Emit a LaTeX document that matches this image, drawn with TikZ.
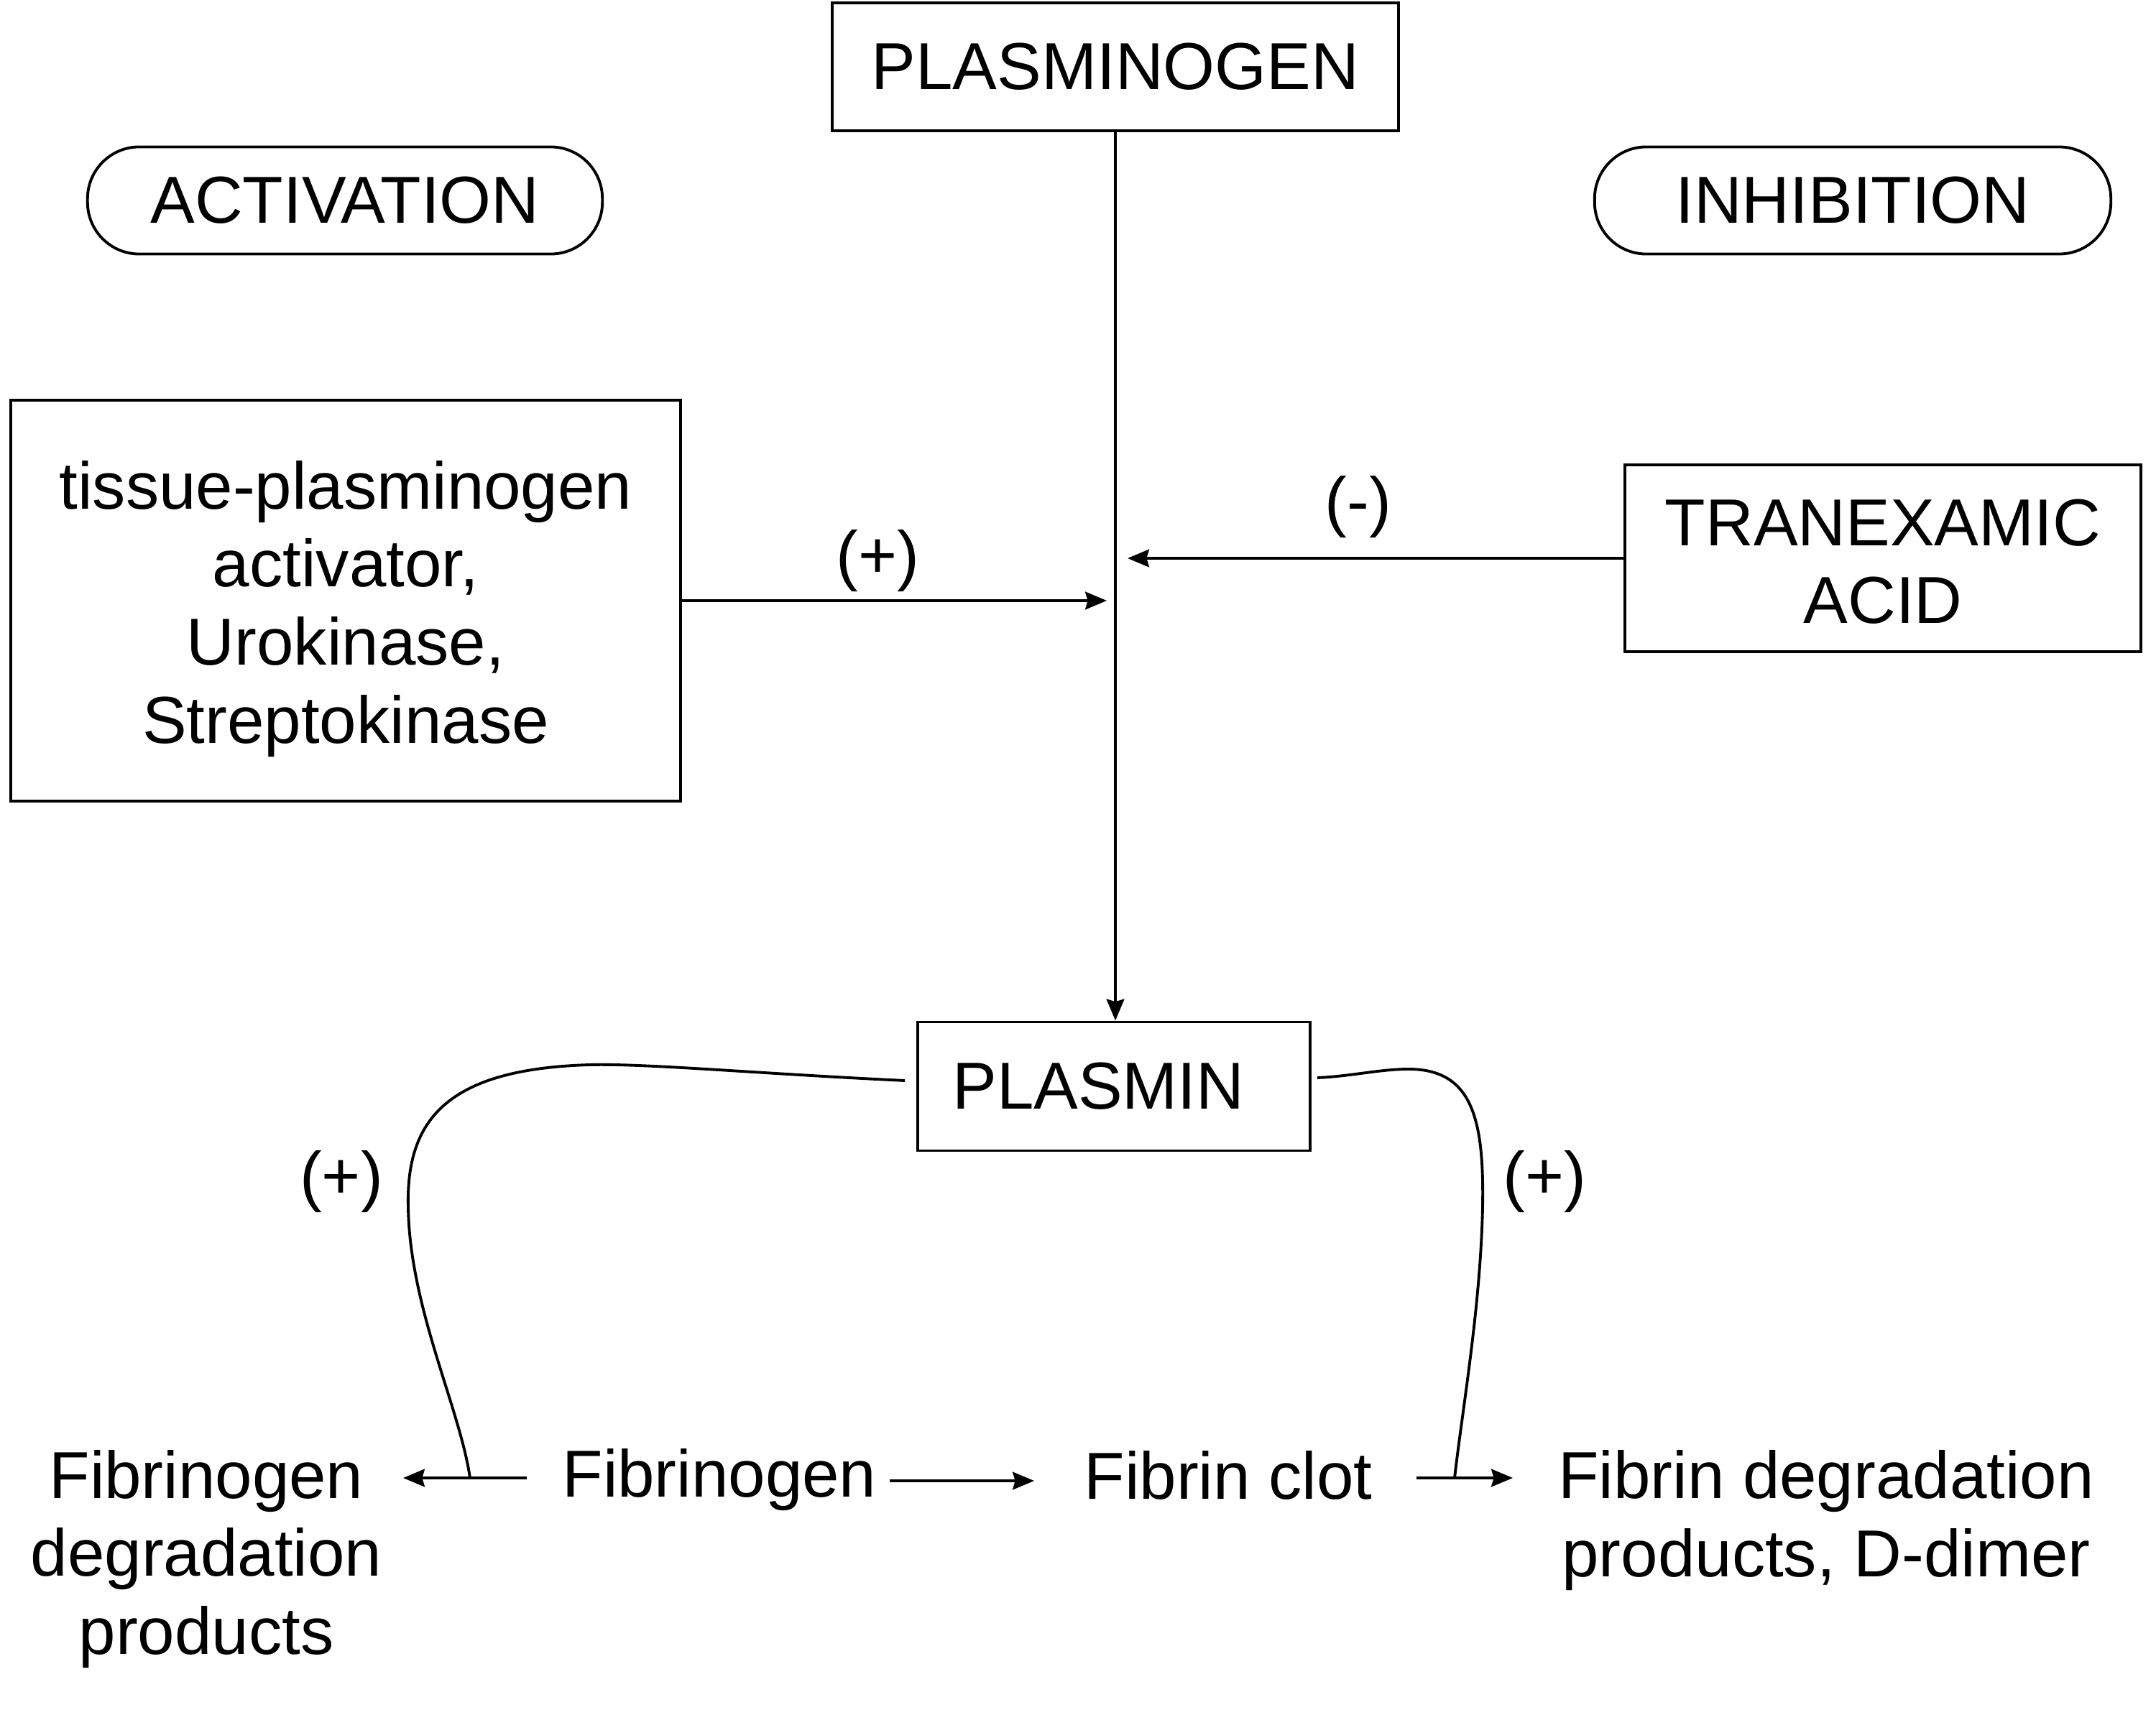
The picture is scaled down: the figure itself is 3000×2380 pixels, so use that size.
\documentclass[tikz,border=0pt]{standalone}
\usepackage{fontspec}
\setmainfont{Liberation Sans}
\usetikzlibrary{shapes.geometric,arrows.meta}
\begin{document}
\begin{tikzpicture}[x=0.01cm,y=-0.01cm,
  every node/.style={font=\fontsize{26.3}{30.9}\selectfont, inner sep=0pt},
  box/.style={draw, line width=1.1pt, rectangle},
  oval/.style={draw, line width=1.1pt, rectangle, rounded corners=0.72cm},
  conn/.style={line width=1.1pt},
  arr/.style={conn, -{Stealth[length=8.5pt,width=7pt,inset=1pt]}},
  txt/.style={align=center}]
\useasboundingbox[fill=white] (0,0) rectangle (3000,2380);

% boxes and ovals
\node[box, minimum width=7.88cm, minimum height=1.78cm] (pg) at (1552,93) {PLASMINOGEN};
\node[oval, minimum width=7.16cm, minimum height=1.49cm] (act) at (480,279) {ACTIVATION};
\node[oval, minimum width=7.18cm, minimum height=1.49cm] (inh) at (2578,279) {INHIBITION};
\node[box, minimum width=9.32cm, minimum height=5.58cm, align=center] (tpa) at (481,836)
  {\rule{0pt}{25.4pt}tissue-plasminogen\\activator,\\Urokinase,\\Streptokinase};
\node[box, minimum width=7.17cm, minimum height=2.60cm, align=center] (tx) at (2620,777)
  {\rule{0pt}{21pt}TRANEXAMIC\\ACID};
\node[box, minimum width=5.45cm, minimum height=1.79cm, text width=4.49cm, align=left, inner xsep=0.48cm] (pm) at (1550,1512) {PLASMIN};

% bottom texts
\node[txt] (fdp) at (287,2170) {Fibrinogen\\degradation\\products};
\node (fbg) at (1001,2060) {Fibrinogen};
\node (fc) at (1709,2053) {Fibrin clot};
\node[txt] (fdd) at (2541,2116) {Fibrin degradation\\products, D-dimer};

% labels
\node (lpa) at (1221,781) {(+)};
\node (lmi) at (1890,706) {(-)};
\node (lpl) at (475,1645) {(+)};
\node (lpr) at (2149,1645) {(+)};

% main vertical connector
\draw[arr] (pg.south) -- (pg.south |- pm.north);

% activation / inhibition arrows
\coordinate (ja) at (1540,836);
\coordinate (jb) at (1569,777);
\draw[arr] (tpa.east) -- (ja);
\draw[arr] (tx.west) -- (jb);

% bottom arrows
\coordinate (l0) at (733,2057);
\coordinate (l1) at (561,2057);
\coordinate (jl) at (654,2057);
\coordinate (m0) at (1238,2061);
\coordinate (m1) at (1439,2061);
\coordinate (r0) at (1971,2057);
\coordinate (r1) at (2105,2057);
\coordinate (jr) at (2024,2057);
\draw[arr] (l0) -- (l1);
\draw[arr] (m0) -- (m1);
\draw[arr] (r0) -- (r1);

% plasmin curves
\coordinate (pl) at (1259,1504);
\coordinate (pr) at (1833,1500);
\draw[conn] (pl) .. controls (1050,1494) and (900,1480) .. (820,1482)
  .. controls (620,1488) and (565,1560) .. (568,1680)
  .. controls (570,1820) and (640,1960) .. (jl);
\draw[conn] (pr) .. controls (1880,1498) and (1920,1488) .. (1960,1488)
  .. controls (2050,1488) and (2065,1560) .. (2063,1680)
  .. controls (2060,1820) and (2035,1960) .. (jr);
\end{tikzpicture}
\end{document}
